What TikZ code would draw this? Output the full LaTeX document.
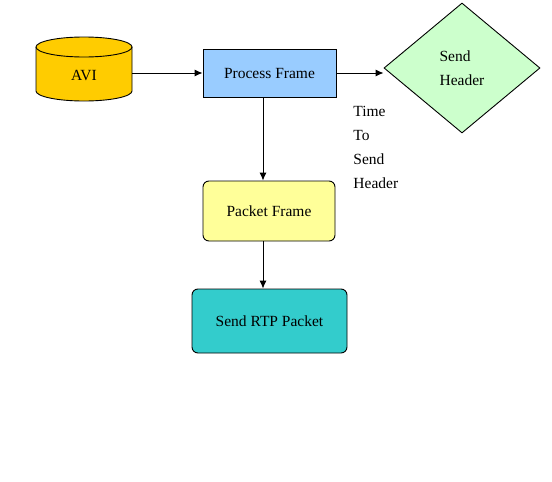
\documentclass[tikz,border=0pt]{standalone}
\usepackage{fontspec}
\setmainfont{Liberation Serif}
\usetikzlibrary{shapes.geometric,arrows.meta}
\definecolor{aviyellow}{HTML}{FFCC00}
\definecolor{procblue}{HTML}{99CCFF}
\definecolor{hdrgreen}{HTML}{CCFFCC}
\definecolor{pktyellow}{HTML}{FFFF99}
\definecolor{rtpteal}{HTML}{33CCCC}
\tikzset{
	box/.style={draw, line width=0.9pt, inner sep=0pt, font=\fontsize{15.5}{24}\selectfont},
	arr/.style={line width=0.9pt, -{Latex[length=8pt,width=7pt]}}
}
\begin{document}
\begin{tikzpicture}[x=1pt, y=-1pt]
		\useasboundingbox (0, 0) rectangle (552, 482);
		% AVI store
		\fill[aviyellow] (36, 47) -- (36, 91) arc[start angle=180, end angle=0, x radius=48, y radius=10] -- (132, 47) -- cycle;
		\fill[aviyellow] (84, 47) ellipse [x radius=48, y radius=10];
		\draw[line width=0.9pt] (36, 47) -- (36, 91) arc[start angle=180, end angle=0, x radius=48, y radius=10] -- (132, 47);
		\draw[line width=0.9pt] (84, 47) ellipse [x radius=48, y radius=10];
		\node[box, draw=none, minimum width=96, minimum height=40] (avi) at (84, 75) {AVI};
		% steps
		\node[box, fill=procblue, minimum width=133, minimum height=48] (proc) at (269.5, 73) {Process Frame};
		\node[box, diamond, fill=hdrgreen, aspect=1.2, minimum width=156, minimum height=130, align=left] (hdr) at (462, 68) {Send\\Header};
		\node[box, fill=pktyellow, rounded corners=6pt, minimum width=132, minimum height=60] (pkt) at (269, 211) {Packet Frame};
		\node[box, fill=rtpteal, rounded corners=6pt, minimum width=155, minimum height=64] (rtp) at (269.5, 321) {Send RTP Packet};
		\node[box, draw=none, anchor=west, align=left] (when) at (353, 147) {Time\\To\\Send\\Header};
		% connectors
		\draw[arr] (avi.east |- proc.west) -- (proc.west);
		\draw[arr] (proc.east) -- (proc.east -| hdr.west);
		\draw[arr] ([xshift=-6.5pt]proc.south) -- ([xshift=-6pt]pkt.north);
		\draw[arr] ([xshift=-6pt]pkt.south) -- ([xshift=-6.5pt]rtp.north);
	\end{tikzpicture}
\end{document}
